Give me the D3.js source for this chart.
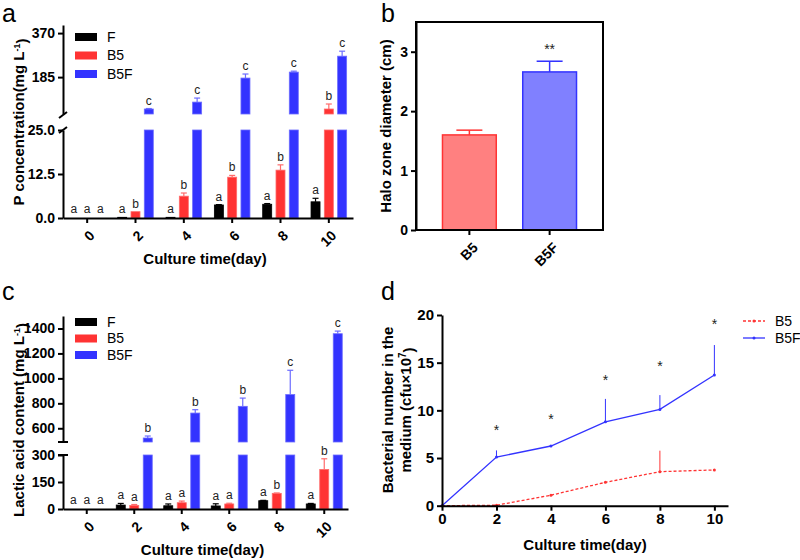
<!DOCTYPE html>
<html lang="en">
<head>
<meta charset="utf-8">
<title>D3: P solubilisation, halo zone, lactic acid, bacterial number</title>
<script src="https://d3js.org/d3.v7.min.js"></script>
<style>
body { margin: 0; background: #fff; }
svg { font-family: "Liberation Sans", Arial, sans-serif; }
.axis path, .axis line { stroke: #000; stroke-width: 2; }
.axis text { font-size: 14px; font-weight: bold; fill: #000; }
.title { font-size: 15px; font-weight: bold; fill: #000; }
.panel { font-size: 25px; fill: #000; }
.letter { font-size: 12px; fill: #222; text-anchor: middle; }
</style>
</head>
<body>
<script>
// ---- data ----
var dayLabels = ["0", "2", "4", "6", "8", "10"];
var dayValues = [0, 2, 4, 6, 8, 10];
var groups = ["F", "B5", "B5F"];
var groupColors = ["#000000", "#ff3333", "#3333ff"];

// panel a: P concentration (mg/L)
var pF = [0, 0.2, 0.2, 3.7, 3.9, 4.6];
var pFErr = [0, 0, 0, 0.1, 0.2, 1.0];
var pB5 = [0, 1.8, 6.2, 11.6, 13.6, 51];
var pB5Err = [0, 0, 0.9, 0.5, 1.5, 21];
var pB5F = [0, 51, 80, 181, 206, 273];
var pB5FErr = [0, 2, 17, 17, 4, 21];
var pLetters = [["a", "a", "a"], ["a", "b", "c"], ["a", "b", "c"], ["a", "b", "c"], ["a", "b", "c"], ["a", "b", "c"]];
var pTicksLow = [0, 12.5, 25];
var pTicksUp = [185, 370];

// panel b: halo zone diameter (cm)
var haloGroups = ["B5", "B5F"];
var halo = [1.6, 2.66];
var haloErr = [0.08, 0.18];
var haloSig = ["", "**"];
var haloTicks = [0, 1, 2, 3];

// panel c: lactic acid content (mg/L)
var lF = [0, 22, 18, 17, 46, 28];
var lFErr = [0, 9, 10, 12, 2, 3];
var lB5 = [0, 20, 35, 28, 87, 220];
var lB5Err = [0, 5, 9, 4, 2, 59];
var lB5F = [0, 522, 722, 776, 870, 1358];
var lB5FErr = [0, 16, 27, 66, 195, 21];
var lLetters = [["a", "a", "a"], ["a", "a", "b"], ["a", "a", "b"], ["a", "a", "b"], ["a", "b", "c"], ["a", "b", "c"]];
var lTicksLow = [0, 150, 300];
var lTicksUp = [600, 800, 1000, 1200, 1400];

// panel d: bacterial number (cfu x 10^7)
var dB5 = [0, 0.05, 1.1, 2.45, 3.57, 3.75];
var dB5Err = [0, 0, 0, 0, 2.2, 0];
var dB5F = [0, 5.1, 6.26, 8.8, 10.1, 13.7];
var dB5FErr = [0, 0.7, 0, 2.4, 1.5, 3.15];
var dStars = [null, 8.0, 9.2, 13.3, 14.8, 19.2];
var dTicksY = [0, 5, 10, 15, 20];

var svg = d3.select("body").append("svg")
  .attr("width", 800)
  .attr("height", 560);

// ---- broken-axis grouped bars (panels a and c) ----
function brokenBars(o) {
  var g = svg.append("g");
  var x = d3.scaleBand().domain(dayLabels).range(o.xRange);
  var yLow = d3.scaleLinear().domain(o.lowDomain).range(o.lowRange);
  var yUp = d3.scaleLinear().domain(o.upDomain).range(o.upRange);
  var lowMax = o.lowDomain[1], upMin = o.upDomain[0];
  var ax = o.xRange[0];

  function yOf(v) { return v <= lowMax ? yLow(v) : yUp(v); }

  o.series.forEach(function(vals, s) {
    var errs = o.errors[s];
    var col = groupColors[s];
    var edge = s == 2 ? "#6b6bff" : (s == 1 ? "#ff6b6b" : "#000");
    dayLabels.forEach(function(d, i) {
      var cx = x(d) + x.bandwidth() / 2 + (s - 1) * o.gap;
      var v = vals[i];
      if (v > 0) {
        g.append("rect")
          .attr("x", cx - o.barW / 2).attr("width", o.barW)
          .attr("y", yLow(Math.min(v, lowMax)))
          .attr("height", yLow(0) - yLow(Math.min(v, lowMax)))
          .attr("fill", col).attr("stroke", edge).attr("stroke-width", 0.8);
        if (v > lowMax) {
          g.append("rect")
            .attr("x", cx - o.barW / 2).attr("width", o.barW)
            .attr("y", yUp(v))
            .attr("height", yUp(upMin) - yUp(v))
            .attr("fill", col).attr("stroke", edge).attr("stroke-width", 0.8);
        }
      }
      var top = v + errs[i];
      if (errs[i] > 0) {
        g.append("line")
          .attr("x1", cx).attr("x2", cx)
          .attr("y1", yOf(v)).attr("y2", yOf(top))
          .attr("stroke", edge).attr("stroke-width", 1.2);
        g.append("line")
          .attr("x1", cx - 3).attr("x2", cx + 3)
          .attr("y1", yOf(top)).attr("y2", yOf(top))
          .attr("stroke", edge).attr("stroke-width", 1.2);
      }
      g.append("text").attr("class", "letter")
        .attr("x", cx)
        .attr("y", Math.min(yOf(top), yLow(0) - 1) - 4)
        .text(o.letters[i][s]);
    });
  });

  // x axis
  var xa = g.append("g").attr("class", "axis")
    .attr("transform", "translate(0," + o.lowRange[0] + ")")
    .call(d3.axisBottom(x).tickSize(5).tickSizeOuter(0));
  xa.selectAll("text")
    .style("text-anchor", "end")
    .attr("y", 0).attr("dy", "0.35em")
    .attr("transform", "translate(5,15) rotate(-45)");

  // y axis, two segments
  g.append("g").attr("class", "axis")
    .attr("transform", "translate(" + ax + ",0)")
    .call(d3.axisLeft(yLow).tickValues(o.lowTicks).tickFormat(o.lowFormat).tickSize(5).tickSizeOuter(0));
  g.append("g").attr("class", "axis")
    .attr("transform", "translate(" + ax + ",0)")
    .call(d3.axisLeft(yUp).tickValues(o.upTicks).tickFormat(d3.format("d")).tickSize(5).tickSizeOuter(0));

  // break marks
  if (o.slash) {
    [o.upRange[0] + 1, o.lowRange[1]].forEach(function(yy) {
      g.append("line").attr("x1", ax - 4).attr("x2", ax + 4)
        .attr("y1", yy + 3).attr("y2", yy - 3)
        .attr("stroke", "#000").attr("stroke-width", 2);
    });
  } else {
    [o.upRange[0], o.lowRange[1]].forEach(function(yy) {
      g.append("line").attr("x1", ax - 5).attr("x2", ax + 5)
        .attr("y1", yy).attr("y2", yy)
        .attr("stroke", "#000").attr("stroke-width", 2);
    });
  }

  // legend
  groups.forEach(function(name, s) {
    var ly = o.legendY + s * o.legendStep;
    g.append("rect").attr("x", 75).attr("y", ly - 4).attr("width", 22).attr("height", 8)
      .attr("fill", groupColors[s]);
    g.append("text").attr("x", 107).attr("y", ly).attr("dy", "0.35em")
      .style("font-size", "14px").text(name);
  });

  // titles
  g.append("text").attr("class", "title")
    .attr("x", (o.xRange[0] + o.xRange[1]) / 2 - 3).attr("y", o.xTitleY)
    .style("text-anchor", "middle").text("Culture time(day)");
  var yt = g.append("text").attr("class", "title")
    .attr("transform", "translate(" + o.yTitleX + "," + o.yTitleY + ") rotate(-90)")
    .style("text-anchor", "middle");
  yt.append("tspan").text(o.yTitle + "(mg L");
  yt.append("tspan").attr("dy", "-0.5em").style("font-size", "9px").text("-1");
  yt.append("tspan").attr("dy", "0.5em").text(")");
}

brokenBars({
  series: [pF, pB5, pB5F], errors: [pFErr, pB5Err, pB5FErr], letters: pLetters,
  xRange: [63, 353], gap: 13.3, barW: 9,
  lowDomain: [0, 25], lowRange: [218, 130], lowTicks: pTicksLow, lowFormat: d3.format(".1f"),
  upDomain: [30, 404], upRange: [114, 25], upTicks: pTicksUp,
  slash: true, legendY: 37, legendStep: 18.5,
  xTitleY: 264, yTitleX: 24, yTitleY: 122, yTitle: "P concentration"
});

brokenBars({
  series: [lF, lB5, lB5F], errors: [lFErr, lB5Err, lB5FErr], letters: lLetters,
  xRange: [63, 348], gap: 13.5, barW: 9,
  lowDomain: [0, 300], lowRange: [509, 455], lowTicks: lTicksLow, lowFormat: d3.format("d"),
  upDomain: [490, 1500], upRange: [442, 316], upTicks: lTicksUp,
  slash: false, legendY: 322, legendStep: 16.5,
  xTitleY: 555, yTitleX: 24, yTitleY: 420, yTitle: "Lactic acid content "
});

// ---- panel b ----
var xB = d3.scaleBand().domain(haloGroups).range([416, 603]).paddingInner(0.33).paddingOuter(0.33);
var yB = d3.scaleLinear().domain([0, 3.5]).range([230, 22]);
var fillB = ["#ff8080", "#8080ff"];
var strokeB = ["#ff3333", "#3333ff"];
var gb = svg.append("g");
haloGroups.forEach(function(k, i) {
  var cx = xB(k) + xB.bandwidth() / 2;
  gb.append("rect").attr("x", xB(k)).attr("width", xB.bandwidth())
    .attr("y", yB(halo[i])).attr("height", yB(0) - yB(halo[i]))
    .attr("fill", fillB[i]).attr("stroke", strokeB[i]).attr("stroke-width", 1.5);
  gb.append("line").attr("x1", cx).attr("x2", cx)
    .attr("y1", yB(halo[i])).attr("y2", yB(halo[i] + haloErr[i]))
    .attr("stroke", strokeB[i]).attr("stroke-width", 1.5);
  gb.append("line").attr("x1", cx - 13).attr("x2", cx + 13)
    .attr("y1", yB(halo[i] + haloErr[i])).attr("y2", yB(halo[i] + haloErr[i]))
    .attr("stroke", strokeB[i]).attr("stroke-width", 1.5);
  gb.append("text").attr("class", "letter").style("font-size", "14px")
    .attr("x", cx).attr("y", yB(halo[i] + haloErr[i]) - 7).text(haloSig[i]);
});
gb.append("rect").attr("x", 416).attr("y", 22).attr("width", 187).attr("height", 208)
  .attr("fill", "none").attr("stroke", "#000").attr("stroke-width", 2);
gb.append("g").attr("class", "axis").attr("transform", "translate(416,0)")
  .call(d3.axisLeft(yB).tickValues(haloTicks).tickFormat(d3.format("d")).tickSize(5).tickSizeOuter(0));
var xbAxis = gb.append("g").attr("class", "axis").attr("transform", "translate(0,230)")
  .call(d3.axisBottom(xB).tickSize(5).tickSizeOuter(0));
xbAxis.select(".domain").remove();
xbAxis.selectAll("text").style("text-anchor", "end")
  .attr("y", 0).attr("dy", "0.35em")
  .attr("transform", "translate(6,15) rotate(-45)");
gb.append("text").attr("class", "title")
  .attr("transform", "translate(391,126) rotate(-90)")
  .style("text-anchor", "middle").text("Halo zone diameter (cm)");

// ---- panel d ----
var xD = d3.scaleLinear().domain([0, 10.5]).range([442, 728]);
var yD = d3.scaleLinear().domain([0, 20]).range([505.7, 315]);
var gd = svg.append("g");
var dSeries = [
  {name: "B5", vals: dB5, errs: dB5Err, color: "#ff3333", dash: "3,2"},
  {name: "B5F", vals: dB5F, errs: dB5FErr, color: "#3333ff", dash: null}
];
var lineD = d3.line()
  .x(function(d) { return xD(d[0]); })
  .y(function(d) { return yD(d[1]); });
dSeries.forEach(function(s) {
  dayValues.forEach(function(day, i) {
    if (s.errs[i] > 0) {
      gd.append("line").attr("x1", xD(day)).attr("x2", xD(day))
        .attr("y1", yD(s.vals[i])).attr("y2", yD(s.vals[i] + s.errs[i]))
        .attr("stroke", s.color).attr("stroke-width", 1);
    }
  });
  gd.append("path")
    .datum(dayValues.map(function(day, i) { return [day, s.vals[i]]; }))
    .attr("d", lineD)
    .attr("fill", "none").attr("stroke", s.color).attr("stroke-width", 1.3)
    .attr("stroke-dasharray", s.dash);
  gd.selectAll(null).data(dayValues).enter().append("circle")
    .attr("cx", function(d) { return xD(d); })
    .attr("cy", function(d, i) { return yD(s.vals[i]); })
    .attr("r", 1.5).attr("fill", s.color);
});
dayValues.forEach(function(day, i) {
  if (dStars[i] != null) {
    gd.append("text").attr("class", "letter").style("font-size", "14px")
      .attr("x", xD(day)).attr("y", yD(dStars[i]) + 6).text("*");
  }
});
gd.append("g").attr("class", "axis").attr("transform", "translate(0,505.7)")
  .call(d3.axisBottom(xD).tickValues(dayValues).tickSize(5).tickSizeOuter(0))
  .selectAll("text").style("font-size", "15px");
gd.append("g").attr("class", "axis").attr("transform", "translate(442,0)")
  .call(d3.axisLeft(yD).tickValues(dTicksY).tickSize(5).tickSizeOuter(0))
  .selectAll("text").style("font-size", "15px");
gd.append("text").attr("class", "title")
  .attr("x", 585).attr("y", 550).style("text-anchor", "middle").text("Culture time(day)");
gd.append("text").attr("class", "title")
  .attr("transform", "translate(393,410) rotate(-90)")
  .style("text-anchor", "middle").text("Bacterial number in the");
var yd2 = gd.append("text").attr("class", "title")
  .attr("transform", "translate(411,410) rotate(-90)")
  .style("text-anchor", "middle");
yd2.append("tspan").text("medium (cfu\u00d710");
yd2.append("tspan").attr("dy", "-0.5em").style("font-size", "10px").text("7");
yd2.append("tspan").attr("dy", "0.5em").text(")");
dSeries.forEach(function(s, i) {
  var ly = 321 + i * 17;
  gd.append("line").attr("x1", 743).attr("x2", 765).attr("y1", ly).attr("y2", ly)
    .attr("stroke", s.color).attr("stroke-width", 1.3).attr("stroke-dasharray", s.dash);
  gd.append("circle").attr("cx", 754).attr("cy", ly).attr("r", 1.5).attr("fill", s.color);
  gd.append("text").attr("x", 775).attr("y", ly).attr("dy", "0.35em")
    .style("font-size", "14px").text(s.name);
});

// ---- panel letters ----
[["a", 2, 22], ["b", 381, 22], ["c", 2, 300], ["d", 381, 300]].forEach(function(p) {
  svg.append("text").attr("class", "panel").attr("x", p[1]).attr("y", p[2]).text(p[0]);
});
</script>
</body>
</html>
